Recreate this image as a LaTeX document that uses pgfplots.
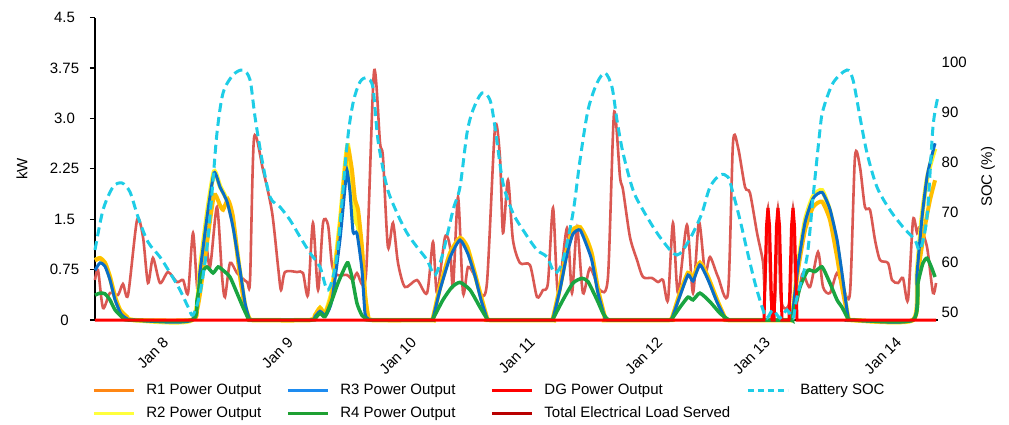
\documentclass[border=0pt]{standalone}
\usepackage{fontspec}
\setmainfont{Liberation Sans}
\usepackage{pgfplots}
\pgfplotsset{compat=1.18}
\definecolor{loadc}{RGB}{218,88,82}
\definecolor{r1c}{RGB}{255,190,0}
\definecolor{r1leg}{RGB}{255,135,20}
\definecolor{r2c}{RGB}{255,245,40}
\definecolor{r2leg}{RGB}{255,255,60}
\definecolor{r3c}{RGB}{10,110,200}
\definecolor{r3leg}{RGB}{30,140,240}
\definecolor{r4c}{RGB}{25,165,65}
\definecolor{r4leg}{RGB}{30,160,50}
\definecolor{dgc}{RGB}{255,0,0}
\definecolor{loadleg}{RGB}{185,0,0}
\definecolor{socc}{RGB}{30,205,230}
\begin{document}
\begin{tikzpicture}[font=\fontsize{15}{18}\selectfont]
\useasboundingbox (-95pt,-104pt) rectangle (914pt,320pt);
\begin{axis}[
  scale only axis, width=843.2pt, height=302.4pt,
  xmin=7.44, xmax=14.38, ymin=0, ymax=4.5,
  axis x line*=bottom, axis y line*=left,
  x axis line style={-, line width=1.3pt, black},
  y axis line style={-, line width=1.3pt, black},
  clip=false,
  xtick={7.975,9,10.016,10.992,12.04,12.926,14.008},
  xticklabels={Jan 8,Jan 9,Jan 10,Jan 11,Jan 12,Jan 13,Jan 14},
  xtick style={draw=none},
  xticklabel style={xshift=2pt, yshift=-6pt, rotate=45, anchor=north east},
  ytick={0,0.75,1.5,2.25,3,3.75,4.5},
  yticklabels={0,0.75,1.5,2.25,3.0,3.75,4.5},
  yticklabel style={anchor=center, xshift=-25.5pt},
  tick align=outside, major tick length=5pt,
  ytick style={line width=1.3pt, black},
  ylabel={kW},
  ylabel style={at={(axis description cs:-0.0866,0.5)}, anchor=center},
  legend columns=4,
  legend cell align=left,
  legend image code/.code={\draw[#1] (0pt,0pt) -- (40pt,0pt);},
  legend style={at={(axis description cs:-0.0034,-0.203)}, anchor=north west,
    draw=none, fill=none, inner sep=0pt, row sep=5pt,
    nodes={inner sep=2pt, text height=11pt, text depth=3pt},
    /tikz/every odd column/.append style={column sep=9pt},
    /tikz/column 2/.style={column sep=23pt},
    /tikz/column 4/.style={column sep=33pt},
    /tikz/column 6/.style={column sep=14pt}},
]
% Total electrical load served
\addplot[forget plot, loadc, line width=2.6pt, smooth, tension=0.45] coordinates {
(7.440,0.595)(7.465,0.744)(7.506,0.179)(7.563,0.402)(7.629,0.372)(7.670,0.536)(7.712,0.372)
(7.786,1.488)(7.835,1.235)(7.876,0.551)(7.917,0.923)(7.975,0.551)(8.041,0.714)(8.115,0.565)
(8.165,0.595)(8.206,0.402)(8.247,1.295)(8.288,0.402)(8.346,1.190)(8.387,0.789)(8.444,1.682)
(8.486,0.640)(8.510,0.342)(8.551,0.848)(8.609,0.699)(8.691,0.565)(8.716,0.595)(8.749,2.708)
(8.823,2.232)(8.897,1.607)(8.947,0.789)(8.971,0.446)(9.004,0.714)(9.103,0.714)(9.152,0.699)
(9.193,0.372)(9.234,1.443)(9.276,0.446)(9.317,1.443)(9.358,1.414)(9.391,0.818)(9.432,0.670)
(9.514,0.670)(9.564,0.595)(9.596,0.699)(9.670,0.670)(9.736,3.690)(9.786,2.634)(9.810,2.426)
(9.851,1.086)(9.893,1.443)(9.934,0.848)(9.991,0.491)(10.090,0.595)(10.173,0.402)(10.222,1.161)
(10.255,0.402)(10.321,1.235)(10.362,1.086)(10.387,0.491)(10.428,1.830)(10.469,0.402)(10.510,0.789)
(10.568,0.640)(10.609,0.402)(10.666,0.551)(10.732,2.857)(10.773,2.426)(10.798,1.295)(10.839,2.083)
(10.880,1.190)(10.938,0.848)(11.020,0.818)(11.078,0.342)(11.127,0.446)(11.168,0.551)(11.210,1.667)
(11.251,0.402)(11.325,1.369)(11.366,0.402)(11.407,1.384)(11.456,0.402)(11.514,0.774)(11.596,0.446)
(11.662,0.640)(11.712,3.080)(11.761,2.128)(11.786,1.935)(11.843,1.235)(11.901,0.893)(11.950,0.640)
(12.024,0.625)(12.074,0.565)(12.115,0.595)(12.156,0.298)(12.197,1.443)(12.238,0.402)(12.312,1.414)
(12.362,0.402)(12.411,1.458)(12.461,0.699)(12.502,0.938)(12.568,0.640)(12.650,0.402)(12.691,2.634)
(12.732,2.574)(12.790,1.979)(12.831,1.890)(12.889,1.295)(12.938,0.863)(12.954,0.446)(12.979,1.667)
(13.004,0.298)(13.037,0.298)(13.061,1.667)(13.086,0.298)(13.160,0.298)(13.185,1.667)(13.210,0.298)
(13.243,0.521)(13.267,0.699)(13.325,0.491)(13.391,1.012)(13.432,0.491)(13.489,0.402)(13.547,0.699)
(13.596,0.491)(13.654,0.402)(13.695,2.426)(13.736,2.277)(13.777,1.682)(13.819,1.637)(13.860,1.190)
(13.901,0.893)(13.967,0.848)(14.000,0.595)(14.049,0.551)(14.090,0.625)(14.131,0.298)(14.173,1.488)
(14.206,1.295)(14.230,1.384)(14.288,1.086)(14.337,0.402)(14.362,0.551)
};
% R2 (yellow)
\addplot[forget plot, r2c, line width=4.5pt, smooth, tension=0.35] coordinates {
(7.440,0.89)(7.481,0.92)(7.522,0.85)(7.563,0.64)(7.605,0.34)(7.646,0.15)(7.703,0.045)(7.753,0)
(8.239,0)(8.305,0.78)(8.362,1.58)(8.420,2.21)(8.469,1.99)(8.527,1.78)(8.576,1.45)(8.634,0.70)(8.675,0.22)(8.708,0.03)(8.732,0)
(9.210,0)(9.251,0.07)(9.292,0.18)(9.333,0.10)(9.391,0.45)(9.456,1.45)(9.498,2.30)(9.522,2.60)(9.555,2.00)(9.580,1.50)(9.605,1.40)(9.637,1.00)(9.662,0.35)(9.687,0.05)(9.720,0)
(10.197,0)(10.222,0.03)(10.280,0.49)(10.362,0.99)(10.444,1.22)(10.502,1.09)(10.551,0.79)(10.609,0.40)(10.666,0.03)(10.691,0)
(11.185,0)(11.210,0.03)(11.267,0.49)(11.325,1.04)(11.374,1.34)(11.432,1.38)(11.489,1.19)(11.530,0.97)(11.580,0.45)(11.638,0.03)(11.662,0)
(12.164,0)(12.189,0.03)(12.255,0.40)(12.321,0.70)(12.362,0.63)(12.419,0.85)(12.485,0.64)(12.559,0.30)(12.625,0.03)(12.650,0)
(13.152,0)(13.177,0.03)(13.226,0.82)(13.284,1.48)(13.350,1.84)(13.424,1.93)(13.489,1.62)(13.547,1.10)(13.588,0.60)(13.638,0.045)(13.662,0)
(14.173,0)(14.206,0.72)(14.247,1.56)(14.288,2.10)(14.321,2.35)(14.354,2.55)
};
% R1 (gold)
\addplot[forget plot, r1c, line width=4pt, smooth, tension=0.35] coordinates {
(7.440,0.89)(7.481,0.92)(7.522,0.85)(7.563,0.64)(7.605,0.34)(7.646,0.15)(7.703,0.045)(7.753,0)
(8.239,0)(8.280,0.15)(8.305,0.40)(8.362,1.15)(8.420,1.86)(8.469,1.71)(8.494,1.64)(8.535,1.79)(8.576,1.53)(8.634,0.64)(8.675,0.19)(8.708,0.03)(8.732,0)
(9.210,0)(9.251,0.07)(9.292,0.18)(9.333,0.10)(9.391,0.40)(9.456,1.38)(9.498,2.23)(9.522,2.56)(9.555,2.23)(9.580,1.79)(9.605,1.64)(9.637,1.09)(9.662,0.40)(9.687,0.07)(9.720,0)
(10.197,0)(10.222,0.03)(10.280,0.49)(10.362,0.99)(10.444,1.22)(10.502,1.09)(10.551,0.79)(10.609,0.40)(10.666,0.03)(10.691,0)
(11.185,0)(11.210,0.03)(11.267,0.49)(11.325,1.04)(11.374,1.34)(11.432,1.38)(11.489,1.19)(11.530,0.97)(11.580,0.45)(11.638,0.03)(11.662,0)
(12.164,0)(12.189,0.03)(12.255,0.40)(12.321,0.70)(12.362,0.63)(12.419,0.85)(12.485,0.64)(12.559,0.30)(12.625,0.03)(12.650,0)
(13.152,0)(13.177,0.03)(13.226,0.74)(13.284,1.34)(13.350,1.68)(13.424,1.76)(13.489,1.49)(13.547,0.94)(13.588,0.49)(13.638,0.045)(13.662,0)
(14.173,0)(14.214,0.70)(14.271,1.39)(14.313,1.79)(14.354,2.08)
};
% R3 (blue)
\addplot[forget plot, r3c, line width=3pt, smooth, tension=0.35] coordinates {
(7.440,0.74)(7.481,0.85)(7.522,0.80)(7.563,0.60)(7.605,0.30)(7.654,0.09)(7.703,0.02)(7.736,0)
(8.239,0)(8.305,0.74)(8.362,1.53)(8.420,2.19)(8.469,1.98)(8.527,1.76)(8.576,1.38)(8.634,0.74)(8.675,0.25)(8.708,0.03)(8.732,0)
(9.210,0)(9.251,0.05)(9.292,0.13)(9.341,0.07)(9.391,0.30)(9.456,1.19)(9.498,1.98)(9.514,2.23)(9.539,1.90)(9.564,1.31)(9.596,1.29)(9.637,0.75)(9.662,0.10)(9.687,0.02)(9.720,0)
(10.197,0)(10.222,0.03)(10.280,0.45)(10.362,0.93)(10.444,1.19)(10.510,0.98)(10.568,0.65)(10.617,0.30)(10.666,0.03)(10.691,0)
(11.185,0)(11.210,0.03)(11.267,0.45)(11.325,0.98)(11.374,1.28)(11.432,1.34)(11.489,1.10)(11.530,0.88)(11.580,0.40)(11.638,0.03)(11.662,0)
(12.164,0)(12.189,0.03)(12.255,0.36)(12.321,0.67)(12.362,0.58)(12.419,0.82)(12.485,0.60)(12.559,0.27)(12.625,0.03)(12.650,0)
(13.152,0)(13.177,0.03)(13.226,0.80)(13.284,1.45)(13.350,1.81)(13.424,1.90)(13.489,1.65)(13.547,1.20)(13.588,0.70)(13.638,0.045)(13.662,0)
(14.173,0)(14.206,0.70)(14.247,1.53)(14.288,2.13)(14.321,2.40)(14.354,2.63)
};
% R4 (green)
\addplot[forget plot, r4c, line width=3.5pt, smooth, tension=0.35] coordinates {
(7.440,0.37)(7.481,0.40)(7.522,0.39)(7.563,0.30)(7.605,0.15)(7.662,0.045)(7.712,0)
(8.239,0)(8.280,0.30)(8.321,0.70)(8.362,0.79)(8.412,0.70)(8.453,0.79)(8.494,0.74)(8.551,0.64)(8.609,0.40)(8.658,0.19)(8.700,0.03)(8.724,0)
(9.226,0)(9.251,0.02)(9.292,0.10)(9.333,0.05)(9.391,0.30)(9.440,0.55)(9.498,0.79)(9.522,0.85)(9.555,0.64)(9.596,0.25)(9.637,0.07)(9.679,0.01)(9.703,0)
(10.197,0)(10.222,0.02)(10.304,0.30)(10.378,0.49)(10.444,0.56)(10.526,0.45)(10.609,0.19)(10.666,0.02)(10.691,0)
(11.185,0)(11.210,0.02)(11.292,0.30)(11.374,0.55)(11.448,0.62)(11.498,0.57)(11.572,0.30)(11.621,0.10)(11.654,0.02)(11.679,0)
(12.164,0)(12.189,0.02)(12.255,0.19)(12.321,0.34)(12.362,0.30)(12.419,0.40)(12.502,0.27)(12.584,0.10)(12.642,0.02)(12.666,0)
(13.152,0)(13.177,0.02)(13.243,0.49)(13.308,0.74)(13.366,0.72)(13.424,0.79)(13.489,0.55)(13.547,0.30)(13.588,0.19)(13.638,0.02)(13.662,0)
(14.173,0)(14.214,0.55)(14.255,0.85)(14.288,0.92)(14.321,0.80)(14.354,0.64)
};
% DG
\addplot[forget plot, dgc, line width=3pt] coordinates {
(7.440,0)(12.946,0)(12.967,1.40)(12.979,1.667)(12.992,1.40)(13.012,0)(13.029,0)(13.049,1.40)(13.061,1.667)(13.074,1.40)(13.094,0)
(13.152,0)(13.173,1.40)(13.185,1.667)(13.197,1.40)(13.218,0)(14.362,0)
};
\addlegendimage{r1leg, line width=3pt}
\addlegendentry{R1 Power Output}
\addlegendimage{r3leg, line width=3pt}
\addlegendentry{R3 Power Output}
\addlegendimage{dgc, line width=3pt}
\addlegendentry{DG Power Output}
\addlegendimage{socc, line width=3pt, dash pattern=on 6pt off 4pt}
\addlegendentry{Battery SOC}
\addlegendimage{r2leg, line width=3pt}
\addlegendentry{R2 Power Output}
\addlegendimage{r4leg, line width=3pt}
\addlegendentry{R4 Power Output}
\addlegendimage{loadleg, line width=3pt}
\addlegendentry{Total Electrical Load Served}
\end{axis}
\begin{axis}[
  scale only axis, width=843.2pt, height=302.4pt,
  xmin=7.44, xmax=14.38, ymin=48.4, ymax=108.88,
  axis x line=none, axis y line*=right,
  y axis line style={draw=none},
  clip=false,
  ytick={50,60,70,80,90,100},
  yticklabels={50,60,70,80,90,100},
  ytick style={draw=none},
  yticklabel style={anchor=west},
  ylabel={SOC (\%)},
  ylabel style={at={(axis description cs:1.059,0.473)}, anchor=center},
]
\addplot[socc, line width=3pt, dash pattern=on 9pt off 5pt, smooth, tension=0.5] coordinates {
(7.440,62.4)(7.506,70.4)(7.588,75.0)(7.662,75.8)(7.728,74.0)(7.794,69.0)(7.876,64.0)(7.975,61.0)
(8.058,57.8)(8.140,54.4)(8.206,51.0)(8.247,49.4)(8.305,53.8)(8.362,63.0)(8.403,73.8)(8.444,85.8)
(8.494,93.8)(8.576,97.4)(8.658,98.4)(8.716,96.4)(8.757,89.0)(8.815,80.4)(8.881,73.0)(8.963,71.0)
(9.045,68.4)(9.128,65.0)(9.210,61.8)(9.292,59.0)(9.358,54.4)(9.432,61.4)(9.514,83.4)(9.564,91.8)
(9.621,96.0)(9.679,96.8)(9.728,94.8)(9.769,84.4)(9.843,75.0)(9.926,69.8)(10.008,65.8)(10.090,63.0)
(10.173,60.4)(10.238,57.4)(10.304,61.8)(10.387,70.4)(10.444,75.0)(10.502,85.8)(10.551,90.4)(10.625,93.8)
(10.691,92.4)(10.732,87.0)(10.798,75.8)(10.880,69.8)(10.979,65.8)(11.078,62.4)(11.160,61.0)(11.226,57.8)
(11.292,60.4)(11.374,69.8)(11.432,80.4)(11.498,90.4)(11.572,95.8)(11.638,97.8)(11.695,95.0)(11.736,88.4)
(11.786,81.8)(11.868,74.4)(11.950,70.4)(12.066,65.8)(12.173,62.4)(12.230,61.4)(12.280,62.4)(12.362,65.8)
(12.436,69.8)(12.502,75.0)(12.584,77.4)(12.650,77.0)(12.691,73.8)(12.749,68.4)(12.806,62.4)(12.872,55.8)
(12.938,50.4)(12.971,48.8)(13.020,50.4)(13.078,48.8)(13.136,50.4)(13.185,48.8)(13.218,53.0)(13.300,61.0)
(13.350,73.0)(13.407,86.4)(13.432,90.4)(13.514,95.8)(13.629,98.4)(13.679,96.4)(13.736,89.0)(13.794,81.8)
(13.876,75.0)(13.983,70.4)(14.090,67.0)(14.189,64.4)(14.230,62.4)(14.288,69.0)(14.337,87.0)(14.378,93.0)
};
\end{axis}
\end{tikzpicture}
\end{document}
